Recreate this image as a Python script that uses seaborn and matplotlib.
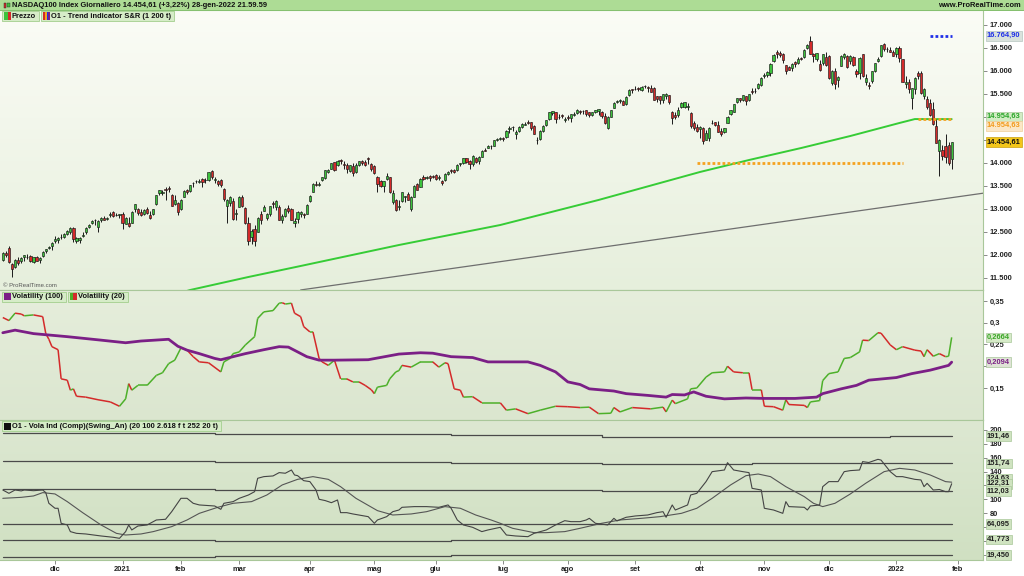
import numpy as np
import pandas as pd
import matplotlib
matplotlib.use("Agg")
import matplotlib.pyplot as plt
import matplotlib.transforms as mtransforms
from matplotlib.collections import LineCollection
from matplotlib.colors import LinearSegmentedColormap
from matplotlib.patches import Rectangle
from matplotlib.ticker import FuncFormatter
import seaborn as sns

# ---------------- data ----------------
holidays = ["2020-11-26", "2020-12-25", "2021-01-01", "2021-01-18", "2021-02-15",
            "2021-04-02", "2021-05-31", "2021-07-05", "2021-09-06", "2021-11-25",
            "2021-12-24", "2022-01-17"]
first_day, last_day = "2020-11-05", "2022-01-28"

open_ = [11900,12040,12160,11800,11730,11900,11860,11950,11960,11970,11850,11950,11900,11980,12080,12150,12200,
         12300,12330,12390,12400,12450,12500,12590,12300,12330,12420,12500,12600,12700,12760,12600,12760,12810,12790,12870,12940,12880,12870,
         12900,12680,12700,12700,12990,13000,12930,12900,12990,12870,12890,13100,13350,13340,13430,13450,13300,13100,13130,
         13000,13270,13420,13400,13560,13600,13590,13650,13630,13620,13830,13640,13600,13620,13440,13060,13130,13180,12890,
         13050,13270,13030,12700,12400,12570,12510,12890,12960,12800,12900,13130,13050,13050,12760,12850,13020,12990,12700,12780,12890,12900,12900,
         13170,13380,13540,13520,13640,13680,13800,13870,14020,13950,14070,13980,13960,13830,13940,13800,13950,14050,14030,14100,13980,
         13930,13700,13600,13500,13650,13690,13150,13200,13050,13170,13260,13330,13000,13270,13540,13480,13700,13680,13720,13710,
         13740,13680,13600,13620,13760,13840,13850,13850,13980,14000,14100,14040,13970,14100,14040,14140,14290,14330,14380,14380,14510,14520,
         14550,14560,14730,14780,14620,14700,14790,14830,14900,14900,14810,14500,14520,14690,14830,14960,15080,15100,15000,15040,14930,
         15010,14980,15050,15080,15140,15120,15150,15100,15050,15110,15140,15110,15030,14770,15010,15200,15330,15350,15340,15280,15470,15600,
         15610,15640,15590,15670,15650,15620,15630,15450,15450,15380,15450,15470,15110,15040,15050,15220,15220,15220,15090,14880,14780,
         14730,14760,14510,14550,14870,14890,14830,14700,14680,14880,15060,15100,15320,15410,15360,15450,15370,15560,15570,15620,15690,
         15900,15920,15960,16210,16420,16400,16360,16120,16080,16070,16200,16170,16280,16300,16490,16650,16370,16250,16150,16180,16300,
         16320,15740,16000,15800,16110,16300,16330,16210,16300,16000,15950,16360,15750,15690,15790,15990,16210,16320,16580,16480,16450,16420,
         16380,16510,16250,15720,15770,15420,15610,15950,15960,15450,15400,15300,15180,14800,14250,14280,14370,14400,14080]
high_ = [12060,12080,12200,11830,11920,11960,11960,12010,12020,12010,11960,11970,11960,12090,12140,12200,12280,
         12420,12390,12450,12470,12550,12600,12610,12400,12390,12500,12600,12680,12760,12780,12750,12830,12850,12820,12930,12960,12910,12900,
         12930,12830,12830,12960,13110,13030,12990,13010,13040,12950,13010,13310,13420,13410,13480,13500,13330,13300,13160,
         13220,13420,13440,13530,13590,13640,13650,13680,13670,13810,13840,13690,13620,13650,13460,13220,13280,13240,13000,
         13280,13300,13050,12820,12560,12660,12830,12950,13080,12920,13070,13180,13190,13080,12890,13020,13080,13030,12800,12950,12950,12920,13110,
         13300,13560,13600,13580,13700,13850,13860,13990,14030,14060,14080,14040,14000,13960,14000,13990,14040,14070,14060,14120,14000,
         13950,13710,13640,13610,13780,13700,13410,13220,13190,13370,13290,13370,13280,13520,13560,13670,13740,13720,13730,13740,
         13760,13730,13640,13790,13830,13880,13880,13970,14000,14110,14100,14070,14180,14140,14150,14290,14330,14390,14390,14510,14540,14560,
         14560,14710,14800,14800,14720,14800,14860,14900,14930,14900,14820,14560,14720,14820,14940,15110,15130,15100,15060,15070,15000,
         15050,15060,15100,15170,15160,15150,15160,15100,15110,15160,15180,15120,15080,15030,15160,15330,15380,15390,15370,15450,15610,15610,
         15680,15650,15670,15700,15680,15690,15660,15460,15460,15500,15530,15480,15130,15100,15210,15320,15330,15300,15100,14910,14850,
         14800,14780,14710,14780,14930,14900,14920,14750,14770,15020,15150,15290,15420,15420,15480,15460,15500,15630,15620,15740,15860,
         15960,15990,16170,16360,16460,16440,16390,16140,16110,16170,16220,16310,16300,16470,16590,16765,16390,16400,16230,16370,16420,
         16350,16030,16060,15890,16340,16400,16350,16340,16330,16050,16300,16370,15930,15760,16010,16180,16300,16570,16600,16520,16530,16450,
         16520,16540,16270,15900,15820,15640,15860,15990,16000,15630,15450,15390,15330,14950,14520,14390,14630,14450,14460]
low_ = [11880,11950,11830,11520,11720,11790,11820,11880,11910,11850,11820,11870,11830,11950,12040,12120,12110,
        12260,12270,12350,12380,12440,12460,12290,12270,12260,12400,12450,12580,12680,12650,12500,12720,12760,12760,12830,12820,12840,12800,
        12570,12670,12600,12690,12940,12880,12840,12870,12900,12780,12860,13080,13310,13310,13200,13380,13060,13090,12880,
        12970,13250,13330,13360,13480,13570,13570,13480,13570,13610,13650,13570,13500,13480,13180,12700,13060,12750,12760,
        13040,13040,12680,12210,12240,12200,12500,12670,12950,12760,12850,13020,12970,12760,12700,12830,12910,12760,12600,12700,12830,12800,12890,
        13160,13370,13510,13490,13610,13660,13780,13860,13830,13930,13980,13870,13780,13800,13720,13790,13930,13960,13930,13970,13830,
        13760,13380,13480,13380,13640,13350,13100,12960,12980,13160,13160,13190,12960,13260,13410,13470,13620,13650,13600,13670,
        13620,13640,13520,13610,13740,13780,13790,13830,13940,13980,13990,13880,13930,14010,13980,14120,14260,14320,14310,14370,14480,14490,
        14480,14550,14650,14700,14530,14680,14770,14820,14840,14720,14620,14410,14500,14670,14810,14940,15040,14880,14950,14980,14890,
        14940,14890,15020,15060,15060,15070,15030,15010,15020,15090,15040,14970,14850,14740,15000,15190,15310,15310,15250,15260,15460,15520,
        15590,15560,15570,15620,15540,15540,15360,15320,15290,15310,15390,15290,14850,14950,14990,15200,15190,15150,14770,14720,14680,
        14540,14410,14510,14480,14840,14800,14680,14590,14660,14880,15050,15100,15300,15320,15350,15270,15350,15510,15530,15600,15680,
        15850,15880,15900,16200,16290,16300,16180,15940,16020,16000,16090,16160,16240,16290,16480,16370,16190,16210,16000,16120,16100,
        15830,15700,15600,15660,16100,16250,16070,16160,16100,15870,15830,15860,15700,15600,15740,15980,16200,16310,16440,16410,16410,16320,
        16300,16200,15760,15630,15530,15170,15510,15830,15500,15400,15180,15030,14820,14440,13720,14060,13990,13960,13880]
close_ = [12040,12010,11850,11700,11900,11830,11940,11990,11950,11860,11950,11880,11930,12070,12130,12180,12270,
          12355,12378,12400,12464,12528,12582,12339,12377,12378,12440,12595,12658,12743,12756,12742,12808,12771,12804,12899,12850,12870,12888,
          12694,12803,12623,12940,13105,12910,12880,12975,12905,12803,12999,13297,13403,13366,13410,13438,13070,13200,12925,
          13200,13400,13380,13520,13560,13610,13600,13580,13640,13800,13700,13660,13540,13520,13210,13190,13260,12780,12910,
          13270,13060,12700,12300,12530,12300,12800,12750,13040,12900,13060,13110,13170,12770,12840,13000,12950,12770,12740,12940,12930,12870,13090,
          13290,13540,13530,13550,13690,13850,13850,13990,13840,14040,14040,13950,13860,13950,13790,13950,14040,13990,13950,14080,13860,
          13790,13540,13500,13600,13720,13360,13340,12970,13070,13360,13280,13200,13250,13500,13420,13650,13660,13700,13680,13690,
          13660,13690,13560,13770,13810,13820,13800,13960,13990,14110,14030,13970,14160,14030,14140,14270,14270,14370,14360,14500,14530,14550,
          14520,14700,14760,14780,14680,14790,14850,14850,14880,14770,14640,14500,14690,14810,14930,15100,15120,14960,14990,15020,14960,
          14970,15060,15070,15160,15100,15130,15060,15040,15100,15160,15180,15020,14860,15000,15150,15310,15340,15370,15250,15430,15590,15580,
          15610,15600,15650,15670,15630,15550,15370,15390,15360,15490,15510,15330,14980,15010,15150,15300,15320,15230,14800,14750,14690,
          14790,14470,14660,14760,14870,14830,14680,14630,14750,15010,15150,15280,15410,15380,15470,15340,15490,15540,15560,15720,15850,
          15900,15970,16150,16350,16370,16340,16240,15990,16030,16160,16150,16270,16260,16460,16570,16380,16320,16390,16030,16360,16140,
          15840,16010,15710,15860,16330,16370,16090,16320,16120,15940,16290,15890,15840,15670,16000,16170,16270,16570,16470,16480,16420,16320,
          16500,16280,15770,15770,15600,15620,15850,15900,15520,15610,15210,15040,14850,14440,14510,14150,14140,14000,14454.61]

month_labels = ["dic", "2021", "feb", "mar", "apr", "mag", "giu", "lug", "ago",
                "set", "ott", "nov", "dic", "2022", "feb"]

# trend indicator S&R (trading-day index -> value)
trend_day = [58, 61, 80, 97, 129, 162, 194, 227, 243, 260, 276, 292, 297, 309]
trend_val = [11180, 11239, 11522, 11761, 12217, 12652, 13196, 13804, 14065, 14326, 14587, 14870, 14955, 14954.63]
support_day = [226, 293]
support_val = [14000, 14000]
resist_day = [298, 309]
resist_val = [14954.63, 14954.63]
peak_day = [302, 309]
peak_val = [16764.90, 16764.90]
tline_day = [97, 321]
tline_val = [11240, 13360]

vol20_day = [0,2,4,6,7,10,13,14,15,16,18,19,21,22,23,24,27,31,35,38,40,41,42,44,47,50,52,54,56,58,
             60,62,64,67,71,72,74,75,77,79,82,83,85,88,90,91,92,94,95,97,98,100,101,103,104,106,108,110,112,114,
             116,118,120,121,122,125,126,128,129,130,133,136,140,142,144,145,147,149,150,153,156,158,162,164,167,171,175,180,184,188,
             191,194,198,199,201,205,211,215,216,218,219,223,224,226,229,231,235,236,238,241,243,244,247,248,251,254,255,256,261,262,
             263,266,267,269,272,274,276,279,280,282,285,286,289,291,293,297,299,300,301,303,305,307,308,309]
vol20_val = [0.312,0.305,0.322,0.320,0.316,0.318,0.314,0.275,0.262,0.245,0.238,0.171,0.168,0.145,0.148,0.131,0.129,0.123,0.118,0.108,
             0.125,0.160,0.145,0.156,0.156,0.179,0.185,0.206,0.214,0.242,0.237,0.222,0.210,0.208,0.187,0.210,0.218,0.229,0.233,0.249,
             0.268,0.310,0.325,0.328,0.345,0.346,0.343,0.345,0.322,0.314,0.291,0.279,0.279,0.218,0.210,0.202,0.214,0.171,0.171,0.164,
             0.164,0.156,0.146,0.137,0.152,0.156,0.171,0.187,0.190,0.202,0.198,0.210,0.210,0.198,0.208,0.206,0.148,0.145,0.129,0.130,
             0.116,0.116,0.116,0.099,0.102,0.091,0.099,0.108,0.107,0.105,0.106,0.091,0.092,0.105,0.095,0.105,0.102,0.106,0.095,0.122,
             0.114,0.125,0.148,0.150,0.175,0.185,0.187,0.200,0.187,0.185,0.185,0.146,0.146,0.108,0.107,0.099,0.123,0.112,0.110,0.105,
             0.118,0.121,0.167,0.183,0.187,0.218,0.220,0.233,0.260,0.259,0.277,0.276,0.249,0.238,0.245,0.237,0.235,0.222,0.238,0.223,
             0.229,0.222,0.223,0.2664]

vol100_day = [0,4,10,21,32,40,45,54,57,60,64,69,71,75,79,85,90,93,96,99,103,108,119,129,136,140,146,153,158,171,
              175,180,184,188,191,199,203,210,216,218,222,225,229,235,242,248,258,265,267,273,278,282,291,296,302,308,309]
vol100_val = [0.277,0.283,0.275,0.268,0.260,0.254,0.258,0.262,0.246,0.237,0.229,0.218,0.215,0.222,0.229,0.238,0.245,0.244,0.233,0.222,
              0.214,0.214,0.215,0.228,0.231,0.230,0.222,0.220,0.210,0.210,0.202,0.187,0.164,0.158,0.148,0.143,0.137,0.133,0.129,0.135,
              0.134,0.141,0.131,0.125,0.127,0.126,0.126,0.129,0.137,0.148,0.156,0.168,0.174,0.183,0.191,0.202,0.2094]

comp_fast_day = [0,2,4,6,7,10,13,14,15,17,18,19,21,22,24,27,32,36,38,40,41,42,44,47,50,53,55,58,60,62,
                 64,69,71,72,75,77,80,82,83,85,88,90,92,94,95,96,98,100,102,103,105,107,109,110,112,114,116,119,121,122,
                 125,127,129,130,134,138,142,145,146,148,150,153,156,158,162,164,167,171,173,177,180,183,185,188,190,191,193,197,199,200,
                 203,206,210,213,215,216,218,219,223,224,226,229,231,235,236,238,241,243,244,247,248,251,254,255,256,261,262,263,266,267,
                 269,272,274,276,279,280,282,285,286,289,291,293,297,299,300,301,303,305,307,308,309]
comp_fast_val = [113.3,108.5,113.3,112.0,113.3,112.3,113.3,109.5,94.1,86.9,86.9,65.2,62.8,53.2,50.7,49.8,46.9,45.0,43.5,53.2,
                 62.8,55.6,61.3,62.8,70.0,71.0,82.0,101.3,101.3,94.1,91.7,90.2,85.4,94.1,96.5,101.3,106.1,110.9,130.2,132.6,
                 133.6,138.4,137.5,142.2,135.0,134.0,126.8,125.4,113.3,99.9,98.0,95.0,98.9,80.6,80.6,78.7,77.2,74.8,65.2,70.0,
                 74.8,82.0,84.4,88.3,89.3,89.3,88.3,91.7,86.9,70.0,62.8,59.4,53.2,55.6,59.4,48.3,46.9,45.9,50.7,55.6,
                 62.8,69.0,67.6,67.6,70.0,72.4,65.2,62.8,72.4,68.6,73.9,75.8,77.2,80.6,82.0,73.9,91.7,84.4,91.7,106.1,
                 108.5,125.4,139.8,142.2,152.8,142.2,139.8,138.4,115.7,113.3,86.9,84.4,79.6,96.5,89.3,88.3,84.4,90.2,91.7,118.1,
                 125.4,125.4,139.8,141.3,142.2,154.3,153.0,157.6,156.5,139.8,132.6,132.6,128.7,127.8,118.1,122.9,113.3,114.0,110.9,110.9,
                 122.31]
comp_slow_day = [0,6,10,13,17,21,26,32,37,40,45,49,55,60,64,70,75,81,86,91,96,101,106,110,115,122,127,133,138,144,
                 149,154,159,162,166,173,177,183,188,195,201,208,214,221,226,231,237,242,246,250,255,261,264,267,271,276,281,287,292,297,
                 302,307,309]
comp_slow_val = [101.3,102.7,104.7,109.5,107.6,96.5,80.6,62.8,50.7,48.3,49.8,53.2,60.4,70.0,79.6,88.3,94.1,96.5,106.1,120.6,
                 128.7,132.6,128.7,118.1,101.3,83.5,77.2,78.7,82.0,89.3,86.9,77.2,70.0,65.2,58.0,51.7,51.7,53.2,58.0,65.2,
                 70.0,72.4,74.8,79.6,86.9,101.3,120.6,134.0,136.4,132.6,118.1,103.7,94.1,89.3,94.1,107.6,123.0,139.8,144.6,142.2,
                 135.0,125.4,124.6]

level_day = [0, 69, 146, 195, 244, 289, 309]
level_1 = [196.0, 193.8, 192.5, 189.9, 190.3, 191.46, 191.46]
level_2 = [155.2, 154.3, 152.8, 150.4, 151.9, 151.74, 151.74]
level_3 = [114.3, 113.5, 113.3, 111.4, 111.8, 112.03, 112.03]
level_4 = [63.8, 63.8, 63.9, 64.0, 64.0, 64.095, 64.095]
level_5 = [41.1, 40.2, 41.5, 41.8, 41.8, 41.773, 41.773]
level_6 = [17.0, 18.5, 19.0, 19.45, 19.45, 19.45, 19.45]

# ---------------- style ----------------
sns.set_theme(style="white")
plt.rcParams["font.family"] = ["Liberation Sans", "DejaVu Sans"]
plt.rcParams["font.weight"] = "bold"
FS = 5.4

W, H = 1024, 576
fig = plt.figure(figsize=(W / 100, H / 100), dpi=100, facecolor="white")


def rect(x0, y0, x1, y1):
    return [x0 / W, 1 - y1 / H, (x1 - x0) / W, (y1 - y0) / H]


AX_R = 983
ax1 = fig.add_axes(rect(0, 10, AX_R, 290))
ax2 = fig.add_axes(rect(0, 290, AX_R, 420), sharex=ax1)
ax3 = fig.add_axes(rect(0, 420, AX_R, 560), sharex=ax1)


def grad_bg(ax, top, bottom):
    cmap = LinearSegmentedColormap.from_list("g", [bottom, top])
    ax.imshow(np.linspace(1, 0, 256).reshape(-1, 1), extent=[0, 1, 0, 1], transform=ax.transAxes,
              aspect="auto", cmap=cmap, zorder=-10, interpolation="bilinear")


grad_bg(ax1, "#fbfcf6", "#e6efdc")
grad_bg(ax2, "#e6eedc", "#dbe6cf")
grad_bg(ax3, "#dde8d2", "#d0e0c2")

# ---------------- dates / ticks ----------------
days_all = pd.bdate_range(first_day, "2022-02-01", freq="C", holidays=holidays)
n = len(close_)
xi = np.arange(n)
month_starts = pd.date_range("2020-12-01", "2022-02-01", freq="MS")
month_pos = [int(np.searchsorted(days_all, m)) for m in month_starts]

# ---------------- price panel ----------------
O = np.array(open_, float)
C = np.array(close_, float)
Hh = np.maximum(np.array(high_, float), np.maximum(O, C))
Ll = np.minimum(np.array(low_, float), np.minimum(O, C))
up = C >= O
ax1.vlines(xi, Ll, Hh, color="#1a1a1a", lw=0.7, zorder=3)
ax1.bar(xi, np.maximum(np.abs(C - O), 8), bottom=np.minimum(O, C), width=0.72,
        color=np.where(up, "#3cc23c", "#d42a2a"), edgecolor="#1a1a1a", linewidth=0.45, zorder=4)

sns.lineplot(x=tline_day, y=tline_val, ax=ax1, color="#6e6e6e", lw=0.9, zorder=2, sort=False)
sns.lineplot(x=trend_day, y=trend_val, ax=ax1, color="#36cc36", lw=1.4, zorder=2, sort=False)
ax1.plot(support_day, support_val, color="#f5a21f", lw=2.0, ls=(0, (1, 0.8)), zorder=5)
ax1.plot(resist_day, resist_val, color="#f5a21f", lw=2.0, ls=(0, (1, 0.8)), zorder=5)
ax1.plot(peak_day, peak_val, color="#1f2fe8", lw=2.0, ls=(0, (1, 0.8)), zorder=5)

# ---------------- volatility panel ----------------
vx = np.array(vol20_day, float)
vy = np.array(vol20_val, float)
segs = np.stack([np.column_stack([vx[:-1], vy[:-1]]), np.column_stack([vx[1:], vy[1:]])], axis=1)
cols = np.where(vy[1:] >= vy[:-1], "#4db02a", "#d42a2a")
ax2.add_collection(LineCollection(segs, colors=cols, linewidths=1.1, zorder=3))
sns.lineplot(x=vol100_day, y=vol100_val, ax=ax2, color="#7b1f86", lw=2.0, zorder=4, sort=False)

# ---------------- composite panel ----------------
for lv in [level_1, level_2, level_3, level_4, level_5, level_6]:
    sns.lineplot(x=level_day, y=lv, ax=ax3, color="#4a4a4a", lw=0.9, drawstyle="steps-post", sort=False)
sns.lineplot(x=comp_slow_day, y=comp_slow_val, ax=ax3, color="#555555", lw=0.8, sort=False)
sns.lineplot(x=comp_fast_day, y=comp_fast_val, ax=ax3, color="#444444", lw=0.8, sort=False)

# ---------------- axes cosmetics ----------------
x_lo, x_hi = -0.91, 319.2
for ax in (ax1, ax2, ax3):
    ax.set_xlim(x_lo, x_hi)
    ax.set_xlabel("")
    ax.set_ylabel("")
    ax.yaxis.tick_right()
    ax.tick_params(axis="y", which="both", direction="out", length=3, width=0.6, colors="#777777",
                   labelsize=FS, pad=2, labelcolor="#222222", right=True, left=False)
    ax.spines["left"].set_visible(False)
    for s in ("right", "top", "bottom"):
        ax.spines[s].set_color("#a9c79a")
        ax.spines[s].set_linewidth(0.8)

ax1.set_ylim(11239, 17326)
ax2.set_ylim(0.0764, 0.3753)
ax3.set_ylim(12.2, 214.4)

# tick labels that sit under the value tags are left blank (as in the reference)
hidden_top = {14500, 15000}
hidden_mid = {0.2}
hidden_bot = {20, 40, 60, 120}
ax1.set_yticks(np.arange(11500, 17001, 500))
ax1.yaxis.set_major_formatter(FuncFormatter(
    lambda v, p: "" if round(v) in hidden_top else f"{v:,.0f}".replace(",", ".")))
ax2.set_yticks([0.15, 0.2, 0.25, 0.3, 0.35])
ax2.yaxis.set_major_formatter(FuncFormatter(
    lambda v, p: "" if round(v, 3) in hidden_mid else ("%g" % v).replace(".", ",")))
ax3.set_yticks(np.arange(20, 201, 20))
ax3.yaxis.set_major_formatter(FuncFormatter(
    lambda v, p: "" if round(v) in hidden_bot else "%g" % v))

ax1.tick_params(axis="x", bottom=False, labelbottom=False)
ax2.tick_params(axis="x", bottom=False, labelbottom=False)
ax3.set_xticks(month_pos)
ax3.set_xticklabels(month_labels)
ax3.tick_params(axis="x", bottom=True, direction="out", length=3, width=0.6, colors="#777777",
                labelsize=FS, pad=1.5, labelcolor="#222222")


def fmt_it(v, nd):
    s = f"{v:,.{nd}f}"
    return s.replace(",", "#").replace(".", ",").replace("#", ".")


def tag(ax, y, text, fc, tc, ec="#a9c79a"):
    tr = mtransforms.blended_transform_factory(ax.transAxes, ax.transData)
    ax.text(1.004, y, text, transform=tr, ha="left", va="center", fontsize=FS, color=tc,
            bbox=dict(boxstyle="square,pad=0.18", fc=fc, ec=ec, lw=0.5), clip_on=False, zorder=20)


tag(ax1, 16764.90, fmt_it(16764.90, 2), "#d9e2dc", "#1f2fe8", "#b6c6c0")
tag(ax1, 15010, fmt_it(14954.63, 2), "#d2ecc4", "#2aa62a")
tag(ax1, 14810, fmt_it(14954.63, 2), "#fbe7c6", "#f29a1a", "#efcf9a")
tag(ax1, 14454.61, fmt_it(14454.61, 2), "#f3c61a", "#111111", "#c9a010")
tag(ax2, 0.2664, "0,2664", "#d6ebc8", "#3aa628")
tag(ax2, 0.2094, "0,2094", "#dfe3d6", "#7b1f86")
for yv, txt in [(191.46, "191,46"), (151.74, "151,74"), (130.0, "124,63"), (122.31, "122,31"),
                (112.03, "112,03"), (64.095, "64,095"), (41.773, "41,773"), (19.45, "19,450")]:
    tag(ax3, yv, txt, "#cfe3c0", "#222222")

# ---------------- header & legends ----------------
fig.patches.append(Rectangle((0, 1 - 10 / H), 1, 10 / H, transform=fig.transFigure,
                             fc="#addc95", ec="none", zorder=1))
fig.patches.append(Rectangle((0, 1 - 10.5 / H), 1, 0.6 / H, transform=fig.transFigure,
                             fc="#86c070", ec="none", zorder=1))
fig.patches.append(Rectangle((3.5 / W, 1 - 8 / H), 2.5 / W, 5 / H, transform=fig.transFigure,
                             fc="#d42a2a", ec="#222222", lw=0.3, zorder=2))
fig.patches.append(Rectangle((7 / W, 1 - 7 / H), 2.5 / W, 4 / H, transform=fig.transFigure,
                             fc="#3cc23c", ec="#222222", lw=0.3, zorder=2))
fig.text(12 / W, 1 - 5.2 / H, "NASDAQ100 Index Giornaliero 14.454,61 (+3,22%) 28-gen-2022 21.59.59",
         fontsize=FS, ha="left", va="center", color="#111111", zorder=3)
fig.text(1021 / W, 1 - 5.2 / H, "www.ProRealTime.com", fontsize=FS, ha="right", va="center",
         color="#111111", zorder=3)

renderer = fig.canvas.get_renderer()


def legend_row(x_px, y_px, items):
    for label, icon in items:
        t = fig.text((x_px + 10) / W, 1 - y_px / H, label, fontsize=FS, ha="left", va="center",
                     color="#111111", zorder=31)
        bb = t.get_window_extent(renderer)
        w_px = bb.width + 13
        fig.patches.append(Rectangle((x_px / W, 1 - (y_px + 5) / H), w_px / W, 10 / H,
                                     transform=fig.transFigure, fc="#d6ecc8", ec="#a3cf8e", lw=0.6, zorder=30))
        k = len(icon)
        for i, c in enumerate(icon):
            fig.patches.append(Rectangle(((x_px + 2 + i * 7 / k) / W, 1 - (y_px + 3.5) / H), (7 / k) / W, 7 / H,
                                         transform=fig.transFigure, fc=c, ec="none", zorder=31))
        x_px += w_px + 2


legend_row(2, 16, [("Prezzo", ["#3cc23c", "#d42a2a"]),
                   ("O1 - Trend indicator S&R (1 200 t)", ["#d42a2a", "#f5a21f", "#1f2fe8", "#7b1f86"])])
legend_row(2, 296.5, [("Volatility (100)", ["#7b1f86"]), ("Volatility (20)", ["#4db02a", "#d42a2a"])])
legend_row(2, 426, [("O1 - Vola Ind (Comp)(Swing_An) (20 100 2.618 f t 252 20 t)", ["#111111"])])

fig.text(3 / W, 1 - 285.5 / H, "\u00a9 ProRealTime.com", fontsize=4.3, ha="left", va="center",
         color="#555555", fontweight="normal", zorder=3)

fig.savefig("out.png", dpi=100, facecolor="white")
